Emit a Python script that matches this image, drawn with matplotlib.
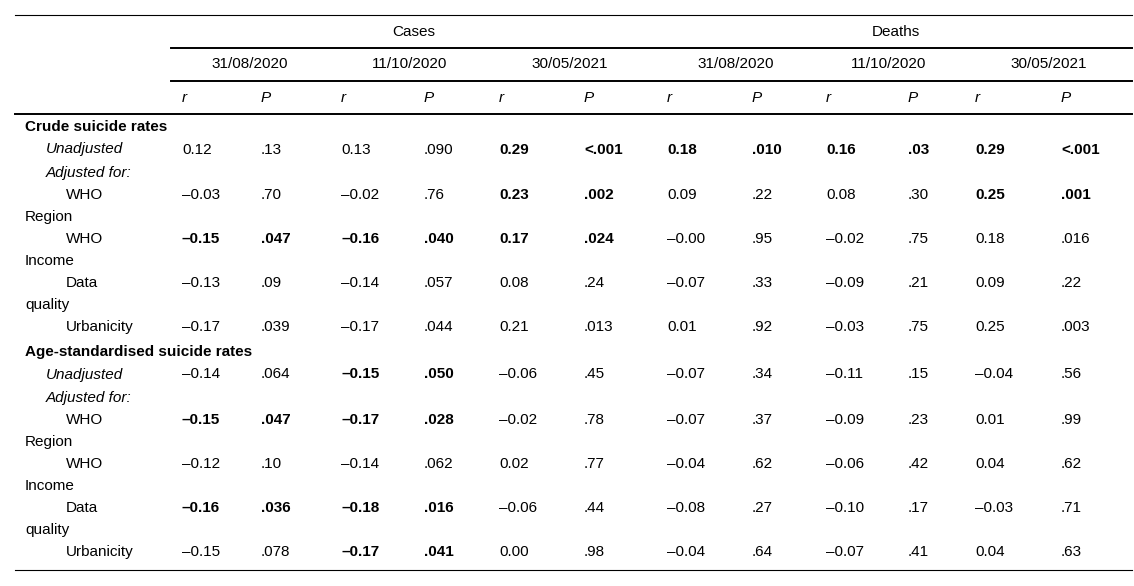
import matplotlib.pyplot as plt

plt.rcParams["font.family"] = ["Liberation Sans", "DejaVu Sans"]

groups = ["Cases", "Deaths"]
dates = ["31/08/2020", "11/10/2020", "30/05/2021"]

sections = ["Crude suicide rates", "Age-standardised suicide rates"]
row_labels = ["Unadjusted", "WHO\nRegion", "WHO\nIncome", "Data\nquality", "Urbanicity"]

crude_vals = [
    ["0.12", ".13", "0.13", ".090", "0.29", "<.001", "0.18", ".010", "0.16", ".03", "0.29", "<.001"],
    ["–0.03", ".70", "–0.02", ".76", "0.23", ".002", "0.09", ".22", "0.08", ".30", "0.25", ".001"],
    ["–0.15", ".047", "–0.16", ".040", "0.17", ".024", "–0.00", ".95", "–0.02", ".75", "0.18", ".016"],
    ["–0.13", ".09", "–0.14", ".057", "0.08", ".24", "–0.07", ".33", "–0.09", ".21", "0.09", ".22"],
    ["–0.17", ".039", "–0.17", ".044", "0.21", ".013", "0.01", ".92", "–0.03", ".75", "0.25", ".003"],
]
crude_bold = [
    [0, 0, 0, 0, 1, 1, 1, 1, 1, 1, 1, 1],
    [0, 0, 0, 0, 1, 1, 0, 0, 0, 0, 1, 1],
    [1, 1, 1, 1, 1, 1, 0, 0, 0, 0, 0, 0],
    [0, 0, 0, 0, 0, 0, 0, 0, 0, 0, 0, 0],
    [0, 0, 0, 0, 0, 0, 0, 0, 0, 0, 0, 0],
]
age_vals = [
    ["–0.14", ".064", "–0.15", ".050", "–0.06", ".45", "–0.07", ".34", "–0.11", ".15", "–0.04", ".56"],
    ["–0.15", ".047", "–0.17", ".028", "–0.02", ".78", "–0.07", ".37", "–0.09", ".23", "0.01", ".99"],
    ["–0.12", ".10", "–0.14", ".062", "0.02", ".77", "–0.04", ".62", "–0.06", ".42", "0.04", ".62"],
    ["–0.16", ".036", "–0.18", ".016", "–0.06", ".44", "–0.08", ".27", "–0.10", ".17", "–0.03", ".71"],
    ["–0.15", ".078", "–0.17", ".041", "0.00", ".98", "–0.04", ".64", "–0.07", ".41", "0.04", ".63"],
]
age_bold = [
    [0, 0, 1, 1, 0, 0, 0, 0, 0, 0, 0, 0],
    [1, 1, 1, 1, 0, 0, 0, 0, 0, 0, 0, 0],
    [0, 0, 0, 0, 0, 0, 0, 0, 0, 0, 0, 0],
    [1, 1, 1, 1, 0, 0, 0, 0, 0, 0, 0, 0],
    [0, 0, 1, 1, 0, 0, 0, 0, 0, 0, 0, 0],
]

# layout (pixel coordinates, y downwards)
col_x = [182, 261, 341, 424, 499, 584, 667, 752, 826, 908, 975, 1061]
group_x = [414, 896]
date_x = [250, 410, 570, 736, 889, 1049]
fs = 11

fig = plt.figure(figsize=(11.34, 5.86), dpi=100)
ax = fig.add_axes([0, 0, 1, 1])
ax.set_xlim(0, 1134)
ax.set_ylim(586, 0)
ax.axis("off")

# rules
ax.plot([15, 1132], [15, 15], color="black", lw=0.8)
ax.plot([171, 1132], [48, 48], color="black", lw=1.4)
ax.plot([171, 1132], [81, 81], color="black", lw=1.4)
ax.plot([15, 1132], [114, 114], color="black", lw=1.4)
ax.plot([15, 1132], [570, 570], color="black", lw=0.8)

# header
for g, x in zip(groups, group_x):
    ax.text(x, 32, g, ha="center", va="center", fontsize=fs)
for i, x in enumerate(date_x):
    ax.text(x, 64, dates[i % 3], ha="center", va="center", fontsize=fs)
for j, x in enumerate(col_x):
    ax.text(x, 98, "r" if j % 2 == 0 else "P", ha="left", va="center",
            fontsize=fs, style="italic")


def draw_block(y0, title, vals, bold):
    ax.text(25, y0, title, ha="left", va="center", fontsize=fs, weight="bold")
    # unadjusted row
    y = y0 + 22.5
    ax.text(46, y, row_labels[0], ha="left", va="center", fontsize=fs, style="italic")
    for j, x in enumerate(col_x):
        ax.text(x, y, vals[0][j], ha="left", va="center", fontsize=fs,
                weight="bold" if bold[0][j] else "normal")
    ax.text(46, y0 + 46, "Adjusted for:", ha="left", va="center",
            fontsize=fs, style="italic")
    for k in range(1, 5):
        y = y0 + 68 + (k - 1) * 44
        lab = row_labels[k].split("\n")
        ax.text(66, y, lab[0], ha="left", va="center", fontsize=fs)
        if len(lab) > 1:
            ax.text(25, y + 22, lab[1], ha="left", va="center", fontsize=fs)
        for j, x in enumerate(col_x):
            ax.text(x, y, vals[k][j], ha="left", va="center", fontsize=fs,
                    weight="bold" if bold[k][j] else "normal")


draw_block(127, sections[0], crude_vals, crude_bold)
draw_block(352, sections[1], age_vals, age_bold)

fig.savefig("out.png", dpi=100)
